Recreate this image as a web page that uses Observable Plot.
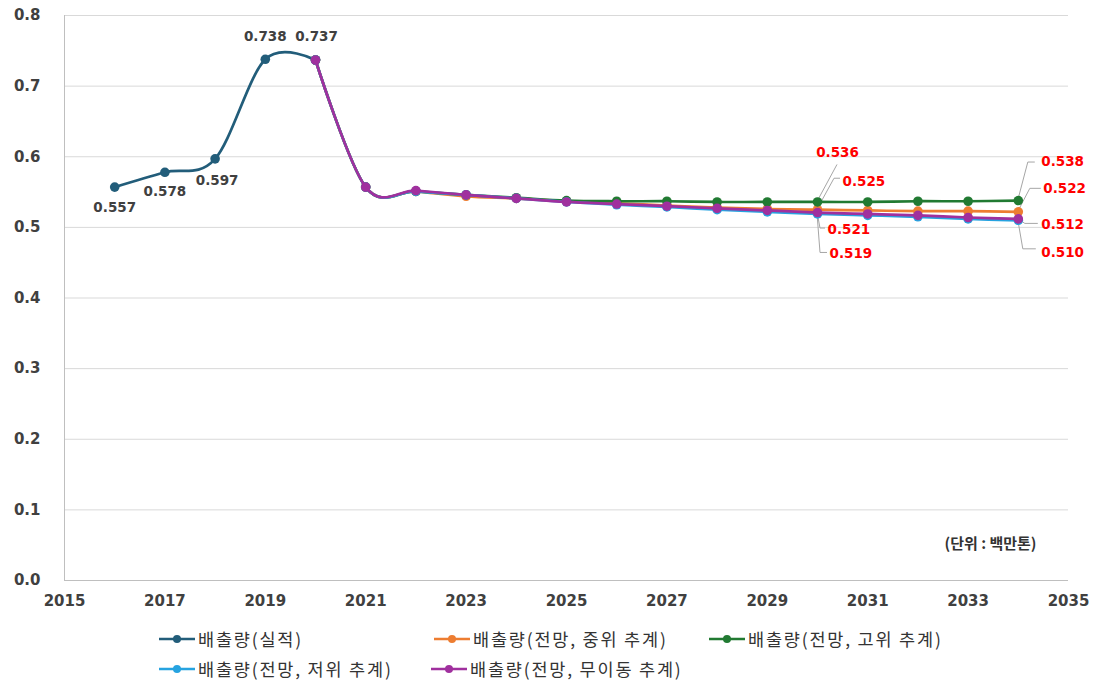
<!DOCTYPE html>
<html>
<head>
<meta charset="utf-8">
<script src="https://cdn.jsdelivr.net/npm/d3@7"></script>
<script src="https://cdn.jsdelivr.net/npm/@observablehq/plot@0.6"></script>
<style>
  html, body { margin: 0; padding: 0; background: #fff; }
  #wrap { position: relative; width: 1098px; height: 683px; font-family: "Noto Sans CJK KR", "Noto Sans", sans-serif; }
  #legend { position: absolute; left: 0; top: 0; width: 1098px; height: 683px; pointer-events: none; }
  .item { position: absolute; display: flex; align-items: center; font-size: 17.5px; letter-spacing: 1.8px; color: #333; white-space: nowrap; }
  .item svg { margin-right: 2px; }
</style>
</head>
<body>
<div id="wrap"><div id="chart"></div><div id="legend"></div></div>
<script>
// ---- data ----
const actualYears = [2016, 2017, 2018, 2019, 2020];
const actualValues = [0.557, 0.578, 0.597, 0.738, 0.737];

const projYears = [2020, 2021, 2022, 2023, 2024, 2025, 2026, 2027, 2028, 2029, 2030, 2031, 2032, 2033, 2034];
const midValues  = [0.737, 0.557, 0.551, 0.544, 0.541, 0.537, 0.534, 0.531, 0.528, 0.526, 0.525, 0.524, 0.523, 0.523, 0.522];
const highValues = [0.737, 0.557, 0.551, 0.546, 0.542, 0.538, 0.537, 0.537, 0.536, 0.536, 0.536, 0.536, 0.537, 0.537, 0.538];
const lowValues  = [0.737, 0.557, 0.551, 0.546, 0.541, 0.536, 0.532, 0.529, 0.525, 0.522, 0.519, 0.517, 0.515, 0.512, 0.510];
const noneValues = [0.737, 0.557, 0.552, 0.546, 0.541, 0.536, 0.533, 0.530, 0.527, 0.524, 0.521, 0.519, 0.517, 0.514, 0.512];

const seriesNames = ["배출량(실적)", "배출량(전망, 중위 추계)", "배출량(전망, 고위 추계)", "배출량(전망, 저위 추계)", "배출량(전망, 무이동 추계)"];
const xTicks = [2015, 2017, 2019, 2021, 2023, 2025, 2027, 2029, 2031, 2033, 2035];
const yTicks = [0, 0.1, 0.2, 0.3, 0.4, 0.5, 0.6, 0.7, 0.8];
const unitLabel = "(단위 : 백만톤)";
const annotatedYears = [2030, 2034];

// ---- styles ----
const colors = ["#225d7a", "#ed7d31", "#217a32", "#26a3e0", "#a0309e"];
const actualLabelOffsets = [[0, 21], [0, 19], [2, 22], [0, -23], [1, -23]];
// leader offsets: [elbowDx, elbowDy, endDx, endDy, labelDx, labelDy, anchor]
const leaderStyles = {
  2030: {
    high: [20, -37, 20, -37, 20, -49, "middle"],
    mid:  [17, -31, 23, -31, 25, -28, "start"],
    none: [3, 16, 8, 16, 10, 17, "start"],
    low:  [3, 39, 10, 39, 12, 40, "start"]
  },
  2034: {
    high: [10, -38, 17, -38, 23, -39, "start"],
    mid:  [12, -23, 23, -23, 25, -23, "start"],
    none: [7, 5, 20, 5, 23, 6, "start"],
    low:  [5, 29, 18, 29, 23, 32, "start"]
  }
};

// ---- build tables ----
const actual = actualYears.map((year, i) => ({year, value: actualValues[i], series: seriesNames[0]}));
const proj = [
  {key: "mid", name: seriesNames[1], values: midValues, color: colors[1]},
  {key: "high", name: seriesNames[2], values: highValues, color: colors[2]},
  {key: "low", name: seriesNames[3], values: lowValues, color: colors[3]},
  {key: "none", name: seriesNames[4], values: noneValues, color: colors[4]}
];
const projData = proj.map(p => projYears.map((year, i) => ({year, value: p.values[i], series: p.name})));

const annos = [];
for (const y of annotatedYears) {
  const idx = projYears.indexOf(y);
  for (const p of proj) annos.push({year: y, value: p.values[idx], key: p.key, style: leaderStyles[y][p.key]});
}

const font = '"Noto Sans CJK KR", "Noto Sans", sans-serif';
const numFont = '"DejaVu Sans", sans-serif';

const leaderMark = (index, scales) => {
  const g = d3.create("svg:g");
  for (const a of annos) {
    const px = scales.x(a.year), py = scales.y(a.value);
    const s = a.style;
    g.append("path")
      .attr("d", `M${px},${py}L${px + s[0]},${py + s[1]}L${px + s[2]},${py + s[3]}`)
      .attr("fill", "none").attr("stroke", "#a6a6a6").attr("stroke-width", 1);
  }
  return g.node();
};

const lineOpts = {x: "year", y: "value", curve: "cardinal", strokeWidth: 2.7};

const marks = [
  Plot.gridY(yTicks, {stroke: "#d9d9d9", strokeOpacity: 1}),
  Plot.ruleX([2015], {stroke: "#bfbfbf"}),
  Plot.ruleY([0], {stroke: "#bfbfbf"}),
  leaderMark,
  Plot.line(actual, {...lineOpts, stroke: colors[0]}),
  Plot.dot(actual, {x: "year", y: "value", fill: colors[0], r: 4.8}),
];
for (let k = 0; k < proj.length; k++) {
  marks.push(Plot.line(projData[k], {...lineOpts, stroke: proj[k].color}));
  marks.push(Plot.dot(projData[k], {x: "year", y: "value", fill: proj[k].color, r: 4.8}));
}
actual.forEach((d, i) => {
  marks.push(Plot.text([d], {x: "year", y: "value", text: d => d.value.toFixed(3), dx: actualLabelOffsets[i][0], dy: actualLabelOffsets[i][1], fill: "#404040", fontWeight: "bold", fontSize: 13.5, fontFamily: numFont}));
});
annos.forEach(a => {
  marks.push(Plot.text([a], {x: "year", y: "value", text: d => d.value.toFixed(3), dx: a.style[4], dy: a.style[5], textAnchor: a.style[6], fill: "#ff0000", fontWeight: "bold", fontSize: 13.5, fontFamily: numFont}));
});
marks.push(Plot.text([unitLabel], {frameAnchor: "bottom-right", textAnchor: "end", dx: -32, dy: -32, fill: "#333", fontSize: 15, fontWeight: "bold"}));

const chart = Plot.plot({
  width: 1098,
  height: 620,
  marginLeft: 64,
  marginRight: 30,
  marginTop: 15,
  marginBottom: 40,
  style: {fontFamily: font, background: "#fff"},
  x: {domain: [2015, 2035], ticks: xTicks, tickFormat: d => String(d), tickSize: 0, tickPadding: 15, label: null},
  y: {domain: [0, 0.8], ticks: yTicks, tickFormat: d3.format(".1f"), tickSize: 0, tickPadding: 24, label: null},
  marks
});
chart.querySelectorAll('g[aria-label="x-axis tick label"] text, g[aria-label="y-axis tick label"] text').forEach(t => {
  t.setAttribute("font-weight", "bold"); t.setAttribute("font-size", "15"); t.setAttribute("fill", "#404040");
  t.setAttribute("font-family", numFont);
});
document.getElementById("chart").appendChild(chart);

// ---- legend ----
const legendPos = [[158, 638], [433, 638], [708, 638], [158, 668], [430, 668]];
const legend = document.getElementById("legend");
seriesNames.forEach((name, i) => {
  const div = document.createElement("div");
  div.className = "item";
  div.style.left = legendPos[i][0] + "px";
  div.style.top = (legendPos[i][1] - 12) + "px";
  div.innerHTML = `<svg width="38" height="12"><line x1="1" y1="6" x2="37" y2="6" stroke="${colors[i]}" stroke-width="2.5"/><circle cx="19" cy="6" r="4" fill="${colors[i]}"/></svg><span>${name}</span>`;
  legend.appendChild(div);
});
</script>
</body>
</html>
